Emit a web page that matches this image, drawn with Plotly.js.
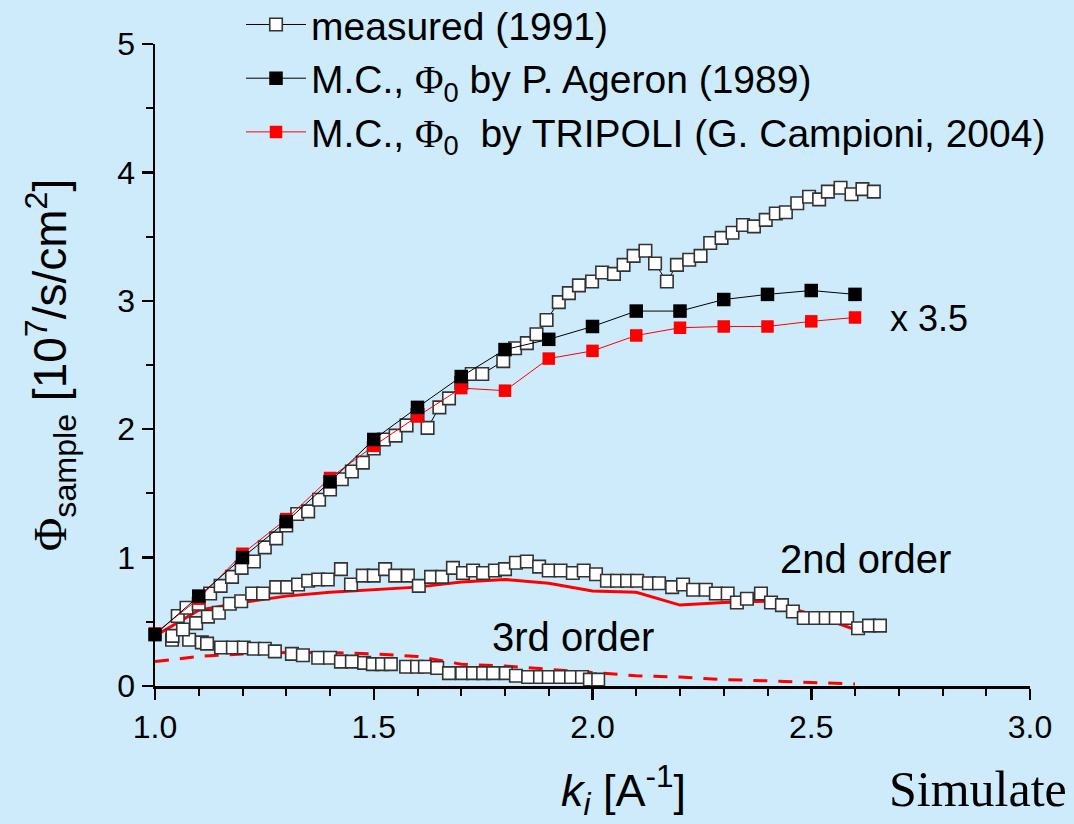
<!DOCTYPE html>
<html><head><meta charset="utf-8">
<script src="https://cdn.plot.ly/plotly-3.0.1.min.js"></script>
<style>html,body{margin:0;padding:0;background:#cdebfb}#chart{width:1074px;height:824px}</style>
</head><body><div id="chart"></div>
<script>
// ---- data ----
const mcX = [1.0,1.1,1.2,1.3,1.4,1.5,1.6,1.7,1.8,1.9,2.0,2.1,2.2,2.3,2.4,2.5,2.6];
const ageronY = [0.40,0.70,1.00,1.28,1.59,1.92,2.17,2.41,2.62,2.70,2.80,2.92,2.92,3.01,3.05,3.08,3.05];
const tripoliY = [0.41,0.68,1.03,1.30,1.62,1.87,2.10,2.32,2.30,2.55,2.61,2.73,2.79,2.80,2.80,2.84,2.87];
const sim2ndY = [0.39,0.59,0.65,0.70,0.73,0.75,0.77,0.81,0.83,0.80,0.74,0.73,0.63,0.65,0.66,0.56,0.44];
const sim3rdY = [0.19,0.23,0.25,0.26,0.26,0.25,0.23,0.17,0.155,0.13,0.10,0.08,0.07,0.05,0.04,0.025,0.015];

const meas1X = [1.052,1.072,1.10,1.126,1.15,1.176,1.198,1.226,1.251,1.277,1.30,1.325,1.35,1.375,1.40,1.427,1.45,1.475,1.50,1.523,1.55,1.575,1.60,1.623,1.65,1.672,1.70,1.724,1.748,1.796,1.823,1.85,1.872,1.895,1.923,1.946,1.969,1.999,2.022,2.049,2.071,2.094,2.121,2.143,2.17,2.193,2.221,2.247,2.269,2.295,2.32,2.344,2.369,2.396,2.419,2.442,2.468,2.495,2.518,2.538,2.567,2.592,2.617,2.643];
const meas1Y = [0.545,0.61,0.64,0.72,0.78,0.85,0.92,0.97,1.08,1.15,1.25,1.34,1.36,1.45,1.53,1.61,1.67,1.74,1.85,1.92,1.95,2.03,2.11,2.01,2.17,2.24,2.36,2.43,2.43,2.53,2.63,2.67,2.74,2.85,2.99,3.06,3.12,3.15,3.22,3.21,3.28,3.35,3.39,3.29,3.15,3.28,3.32,3.35,3.45,3.49,3.53,3.59,3.58,3.63,3.68,3.69,3.76,3.81,3.79,3.85,3.88,3.83,3.87,3.85];

const meas2X = [1.04,1.064,1.094,1.121,1.146,1.171,1.197,1.222,1.247,1.277,1.302,1.327,1.35,1.373,1.395,1.425,1.448,1.475,1.50,1.526,1.549,1.578,1.603,1.631,1.656,1.681,1.704,1.727,1.75,1.777,1.80,1.825,1.85,1.878,1.90,1.927,1.955,1.98,2.008,2.033,2.056,2.079,2.102,2.129,2.152,2.182,2.207,2.23,2.259,2.282,2.309,2.33,2.353,2.385,2.408,2.433,2.458,2.483,2.509,2.533,2.556,2.582,2.607,2.632,2.657];
const meas2Y = [0.39,0.44,0.49,0.54,0.57,0.64,0.66,0.72,0.72,0.77,0.77,0.79,0.82,0.83,0.83,0.91,0.79,0.86,0.86,0.91,0.86,0.86,0.78,0.85,0.85,0.92,0.88,0.90,0.88,0.90,0.91,0.96,0.97,0.93,0.90,0.90,0.88,0.90,0.87,0.82,0.82,0.82,0.82,0.80,0.80,0.77,0.79,0.75,0.75,0.72,0.72,0.65,0.68,0.72,0.65,0.63,0.58,0.53,0.53,0.53,0.53,0.53,0.45,0.47,0.47];

const meas3X = [1.039,1.078,1.107,1.119,1.151,1.178,1.203,1.226,1.251,1.274,1.313,1.338,1.373,1.40,1.425,1.45,1.478,1.498,1.519,1.539,1.574,1.599,1.617,1.645,1.672,1.702,1.727,1.75,1.773,1.802,1.825,1.853,1.88,1.90,1.926,1.951,1.976,1.994,2.013];
const meas3Y = [0.36,0.36,0.34,0.33,0.30,0.30,0.30,0.29,0.29,0.27,0.25,0.24,0.22,0.22,0.19,0.19,0.18,0.17,0.17,0.17,0.15,0.15,0.15,0.14,0.10,0.10,0.10,0.10,0.10,0.10,0.08,0.07,0.07,0.07,0.07,0.07,0.07,0.05,0.05];

const xTickVals = [1.0,1.5,2.0,2.5,3.0];
const xTickText = ['1.0','1.5','2.0','2.5','3.0'];
const yTickVals = [0,1,2,3,4,5];
const yTickText = ['0','1','2','3','4','5'];

const PHI = '<span style="font-family:\'Liberation Serif\'">Φ</span>';
const legendNames = ['measured (1991)',
  'M.C., ' + PHI + '<sub>0</sub> by P. Ageron (1989)',
  'M.C., ' + PHI + '<sub>0</sub>\u00a0 by TRIPOLI (G. Campioni, 2004)'];
const xTitle = '<i>k</i><sub><i>i</i></sub> [A<sup>-1</sup>]';
const yTitle = PHI + '<sub>sample</sub> [10<sup>7</sup>/s/cm<sup>2</sup>]';

// ---- styling ----
const BG = '#cdebfb';
const FONT = 'Liberation Sans, Arial, sans-serif';
const whiteMarker = {symbol:'square', size:12.5, color:'#ffffff', line:{color:'#333333', width:1.6}};

const traces = [
  {x:mcX, y:sim2ndY, mode:'lines', line:{color:'#ff0000', width:3}, showlegend:false, cliponaxis:false, hoverinfo:'skip'},
  {x:mcX, y:sim3rdY, mode:'lines', line:{color:'#ff0000', width:3, dash:'14px,11px'}, showlegend:false, cliponaxis:false, hoverinfo:'skip'},
  {x:meas3X, y:meas3Y, mode:'markers', marker:whiteMarker, showlegend:false, cliponaxis:false},
  {x:meas2X, y:meas2Y, mode:'markers', marker:whiteMarker, showlegend:false, cliponaxis:false},
  {x:meas1X, y:meas1Y, mode:'lines+markers', name:legendNames[0], legendrank:1, legendgroup:'a',
   line:{color:'#000000', width:1}, marker:whiteMarker, cliponaxis:false},
  {x:mcX, y:tripoliY, mode:'lines+markers', name:legendNames[2], legendrank:3, legendgroup:'c',
   line:{color:'#ff0000', width:1}, marker:{symbol:'square', size:12.5, color:'#ff0000'}, cliponaxis:false},
  {x:mcX, y:ageronY, mode:'lines+markers', name:legendNames[1], legendrank:2, legendgroup:'b',
   line:{color:'#000000', width:1}, marker:{symbol:'square', size:13.5, color:'#000000'}, cliponaxis:false}
];

const layout = {
  width:1074, height:824,
  paper_bgcolor:BG, plot_bgcolor:BG,
  margin:{l:155, r:44, t:44, b:138, autoexpand:false},
  font:{family:FONT, color:'#000000', size:32},
  showlegend:true,
  legend:{x:0.0983, y:1.08, xanchor:'left', yanchor:'top',
          bgcolor:'rgba(0,0,0,0)', font:{size:39, family:FONT}, tracegroupgap:3, itemwidth:60,
          traceorder:'normal'},
  xaxis:{range:[1,3], showgrid:false, zeroline:false, showline:true, linecolor:'#000', linewidth:2.5,
         ticks:'outside', ticklen:11, tickwidth:2.5, tickcolor:'#000',
         tickvals:xTickVals, ticktext:xTickText, tickfont:{size:32},
         minor:{dtick:0.1, tick0:1, ticks:'outside', ticklen:7, tickwidth:2, tickcolor:'#000'}},
  yaxis:{range:[0,5], showgrid:false, zeroline:false, showline:true, linecolor:'#000', linewidth:2.5,
         ticks:'outside', ticklen:11, tickwidth:2.5, tickcolor:'#000',
         tickvals:yTickVals, ticktext:yTickText, tickfont:{size:32},
         minor:{dtick:0.5, ticks:'outside', ticklen:7, tickwidth:2, tickcolor:'#000'},
         automargin:true,
         title:{text:yTitle, font:{size:46}, standoff:36}},
  annotations:[
    {x:0.535, y:-0.162, xref:'paper', yref:'paper', xanchor:'center', yanchor:'middle', text:xTitle,
     showarrow:false, borderpad:0, font:{size:45}},
    {x:2.77, y:2.86, xref:'x', yref:'y', text:'x 3.5', showarrow:false, font:{size:36}},
    {x:2.625, y:0.99, xref:'x', yref:'y', text:'2nd order', showarrow:false, font:{size:40}},
    {x:1.955, y:0.38, xref:'x', yref:'y', text:'3rd order', showarrow:false, font:{size:40}},
    {x:0.836, y:-0.16, xref:'paper', yref:'paper', xanchor:'left', yanchor:'middle', text:'Simulate',
     showarrow:false, font:{size:50, family:'Liberation Serif, Times New Roman, serif'}}
  ]
};

Plotly.newPlot('chart', traces, layout, {displayModeBar:false, staticPlot:true});
</script></body></html>
